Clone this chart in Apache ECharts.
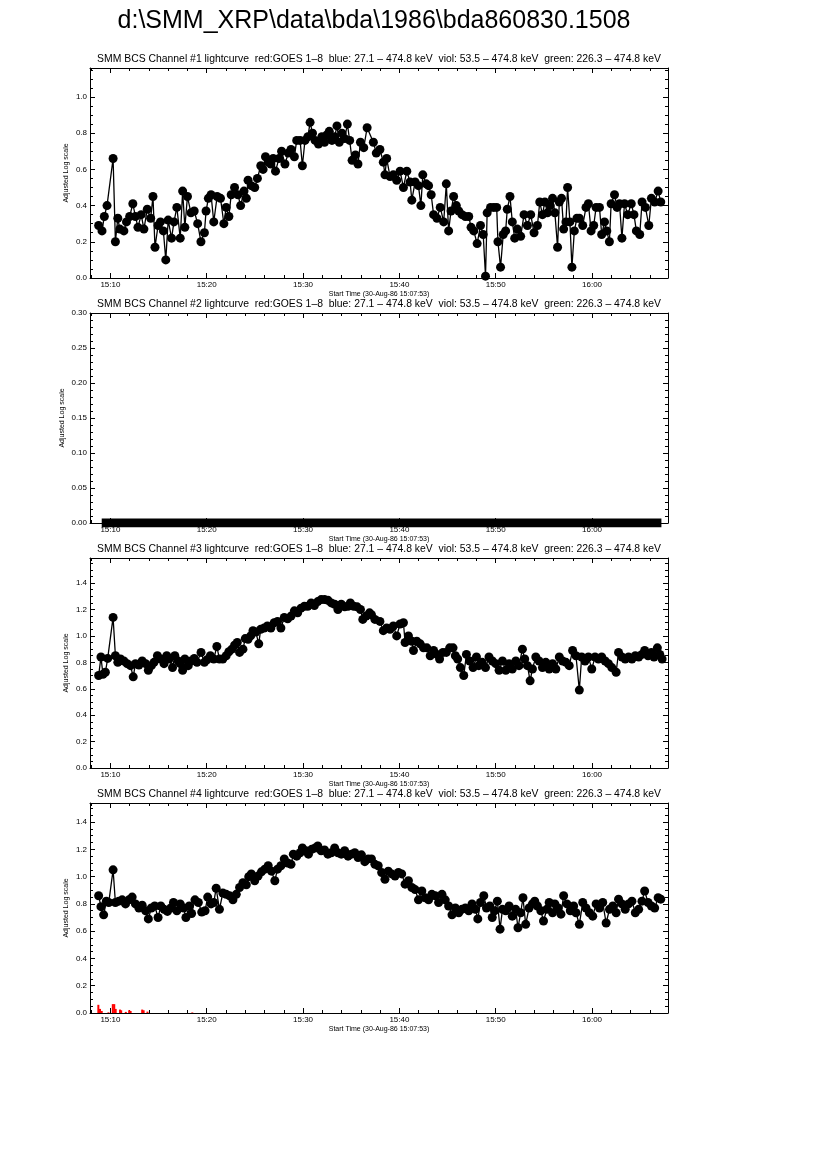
<!DOCTYPE html>
<html><head><meta charset="utf-8">
<script src="https://cdn.jsdelivr.net/npm/echarts@6/dist/echarts.min.js"></script>
<style>html,body{margin:0;padding:0;background:#fff}#c{width:826px;height:1169px}</style>
</head><body><div id="c"></div>
<script>
// ---------------- DATA (time in minutes after 15:00, 30-Aug-86) ----------------
const mainTitle = 'd:\\SMM_XRP\\data\\bda\\1986\\bda860830.1508';
const panelTitles = [
  'SMM BCS Channel #1 lightcurve  red:GOES 1\u20138  blue: 27.1 \u2013 474.8 keV  viol: 53.5 \u2013 474.8 keV  green: 226.3 \u2013 474.8 keV',
  'SMM BCS Channel #2 lightcurve  red:GOES 1\u20138  blue: 27.1 \u2013 474.8 keV  viol: 53.5 \u2013 474.8 keV  green: 226.3 \u2013 474.8 keV',
  'SMM BCS Channel #3 lightcurve  red:GOES 1\u20138  blue: 27.1 \u2013 474.8 keV  viol: 53.5 \u2013 474.8 keV  green: 226.3 \u2013 474.8 keV',
  'SMM BCS Channel #4 lightcurve  red:GOES 1\u20138  blue: 27.1 \u2013 474.8 keV  viol: 53.5 \u2013 474.8 keV  green: 226.3 \u2013 474.8 keV'
];
const xAxisTitle = 'Start Time (30-Aug-86 15:07:53)';
const yAxisTitle = 'Adjusted Log scale';
const xTicks = [10, 20, 30, 40, 50, 60];
const xTickLabels = ['15:10', '15:20', '15:30', '15:40', '15:50', '16:00'];
const yTicks1 = [0, 0.2, 0.4, 0.6, 0.8, 1.0];
const yTickLabels1 = ['0.0', '0.2', '0.4', '0.6', '0.8', '1.0'];
const yTicks2 = [0, 0.05, 0.10, 0.15, 0.20, 0.25, 0.30];
const yTickLabels2 = ['0.00', '0.05', '0.10', '0.15', '0.20', '0.25', '0.30'];
const yTicks34 = [0, 0.2, 0.4, 0.6, 0.8, 1.0, 1.2, 1.4];
const yTickLabels34 = ['0.0', '0.2', '0.4', '0.6', '0.8', '1.0', '1.2', '1.4'];

const t1 = [8.78,9.13,9.37,9.65,10.28,10.52,10.77,10.98,11.40,11.67,
12.00,12.33,12.60,12.86,13.20,13.48,13.83,14.18,14.42,14.63,
14.95,15.20,15.50,15.75,16.00,16.35,16.60,16.90,17.25,17.50,
17.73,18.00,18.36,18.70,19.06,19.40,19.76,19.93,20.17,20.45,
20.73,21.08,21.43,21.78,22.02,22.30,22.54,22.89,23.24,23.52,
23.87,24.11,24.29,24.63,24.98,25.26,25.61,25.85,26.10,26.38,
26.66,26.90,27.14,27.50,27.77,28.12,28.47,28.75,29.10,29.34,
29.69,29.93,30.20,30.50,30.73,30.98,31.25,31.60,31.95,32.23,
32.47,32.72,33.00,33.28,33.52,33.76,34.04,34.32,34.60,34.84,
35.09,35.44,35.70,35.96,36.30,36.65,37.30,37.60,37.98,38.33,
38.50,38.68,39.03,39.37,39.72,40.07,40.42,40.77,41.11,41.29,
41.63,41.98,42.23,42.43,42.78,43.03,43.30,43.55,43.90,44.24,
44.60,44.87,45.11,45.36,45.63,45.91,46.16,46.50,46.85,47.20,
47.44,47.72,48.07,48.42,48.70,48.94,49.11,49.46,49.80,50.10,
50.23,50.50,50.78,51.03,51.20,51.48,51.72,51.97,52.24,52.59,
52.94,53.29,53.63,53.98,54.33,54.57,54.85,55.10,55.37,55.65,
55.90,56.14,56.42,56.60,56.83,57.05,57.29,57.46,57.70,57.91,
58.16,58.43,58.68,59.03,59.37,59.62,59.90,60.17,60.42,60.77,
61.00,61.29,61.53,61.80,61.98,62.33,62.60,62.85,63.10,63.37,
63.70,64.07,64.35,64.60,64.95,65.19,65.54,65.89,66.16,66.50,
66.86,67.13];
const v1 = [0.29,0.26,0.34,0.40,0.66,0.20,0.33,0.27,0.26,0.31,
0.34,0.41,0.34,0.28,0.35,0.27,0.38,0.33,0.45,0.17,
0.29,0.31,0.26,0.10,0.32,0.22,0.31,0.39,0.22,0.48,
0.28,0.45,0.36,0.37,0.30,0.20,0.25,0.37,0.44,0.46,
0.31,0.45,0.44,0.30,0.39,0.34,0.46,0.50,0.46,0.40,
0.48,0.44,0.54,0.51,0.50,0.55,0.62,0.60,0.67,0.64,
0.63,0.66,0.59,0.66,0.70,0.63,0.69,0.71,0.67,0.76,
0.76,0.62,0.76,0.78,0.86,0.80,0.76,0.74,0.78,0.75,
0.79,0.81,0.76,0.78,0.84,0.75,0.80,0.77,0.85,0.76,
0.65,0.68,0.63,0.75,0.72,0.83,0.75,0.69,0.71,0.64,
0.57,0.66,0.56,0.57,0.54,0.59,0.50,0.59,0.53,0.43,
0.53,0.51,0.40,0.57,0.52,0.51,0.46,0.35,0.33,0.39,
0.31,0.52,0.26,0.37,0.45,0.40,0.37,0.35,0.34,0.34,
0.28,0.26,0.19,0.29,0.24,0.01,0.36,0.39,0.39,0.39,
0.20,0.06,0.24,0.26,0.38,0.45,0.31,0.22,0.27,0.23,
0.35,0.29,0.35,0.25,0.29,0.42,0.35,0.42,0.36,0.40,
0.44,0.36,0.17,0.42,0.44,0.27,0.31,0.50,0.31,0.06,
0.26,0.33,0.33,0.29,0.39,0.41,0.26,0.29,0.39,0.39,
0.24,0.31,0.26,0.20,0.41,0.46,0.39,0.41,0.22,0.41,
0.35,0.41,0.35,0.26,0.24,0.42,0.39,0.29,0.44,0.42,
0.48,0.42];

// Channel #2: flat zero readings across the interval
const t2 = [9.1, 15.0, 20.0, 25.0, 30.0, 35.0, 40.0, 45.0, 50.0, 55.0, 60.0, 67.2];
const v2 = [0, 0, 0, 0, 0, 0, 0, 0, 0, 0, 0, 0];

const t3 = [8.78,9.02,9.23,9.48,9.72,10.28,10.52,10.77,11.05,11.40,
11.74,12.09,12.37,12.60,12.96,13.30,13.66,13.94,14.25,14.53,
14.88,15.23,15.57,15.85,16.10,16.45,16.69,17.04,17.25,17.50,
17.73,18.08,18.36,18.71,18.99,19.41,19.76,20.03,20.38,20.73,
21.05,21.32,21.67,22.02,22.30,22.61,22.89,23.17,23.41,23.76,
24.00,24.29,24.56,24.80,25.09,25.40,25.60,25.96,26.30,26.66,
27.00,27.35,27.70,28.05,28.40,28.75,29.10,29.44,29.79,30.14,
30.49,30.84,31.18,31.53,31.88,32.23,32.58,32.93,33.28,33.62,
33.97,34.32,34.67,34.91,35.26,35.61,35.96,36.20,36.55,36.90,
37.10,37.46,37.98,38.33,38.68,39.03,39.37,39.72,40.07,40.42,
40.59,40.94,41.29,41.46,41.80,42.16,42.50,42.85,43.20,43.55,
43.90,44.17,44.52,44.87,45.22,45.57,45.81,46.05,46.33,46.68,
46.96,47.30,47.65,48.00,48.24,48.59,48.94,49.30,49.65,50.00,
50.35,50.70,51.04,51.39,51.72,52.09,52.42,52.77,53.01,53.29,
53.57,53.81,54.16,54.50,54.85,55.20,55.55,55.90,56.24,56.60,
56.94,57.29,57.63,57.98,58.33,58.68,58.92,59.27,59.62,59.97,
60.31,60.66,61.00,61.36,61.70,62.05,62.50,62.75,63.10,63.44,
63.79,64.14,64.49,64.84,65.18,65.46,65.81,66.16,66.43,66.78,
67.03,67.27];
const v3 = [0.70,0.84,0.71,0.725,0.83,1.14,0.85,0.80,0.825,0.81,
0.79,0.775,0.69,0.79,0.78,0.81,0.79,0.74,0.775,0.80,
0.85,0.825,0.79,0.85,0.825,0.76,0.85,0.81,0.79,0.74,
0.825,0.775,0.81,0.83,0.80,0.875,0.80,0.82,0.85,0.825,
0.92,0.825,0.825,0.85,0.88,0.90,0.93,0.95,0.875,0.90,
0.98,0.975,1.00,1.04,1.03,0.94,1.05,1.06,1.075,1.06,
1.10,1.11,1.06,1.14,1.13,1.15,1.19,1.175,1.21,1.225,
1.225,1.25,1.23,1.26,1.275,1.275,1.27,1.25,1.24,1.20,
1.24,1.22,1.225,1.25,1.225,1.22,1.20,1.125,1.15,1.175,
1.16,1.125,1.11,1.04,1.06,1.05,1.075,1.00,1.09,1.10,
0.95,1.00,0.96,0.89,0.96,0.94,0.91,0.91,0.85,0.89,
0.86,0.825,0.875,0.875,0.91,0.91,0.85,0.825,0.76,0.70,
0.86,0.81,0.76,0.84,0.775,0.80,0.76,0.84,0.81,0.79,
0.74,0.81,0.74,0.79,0.75,0.81,0.775,0.90,0.825,0.775,
0.66,0.75,0.84,0.81,0.76,0.80,0.75,0.79,0.75,0.84,
0.81,0.80,0.775,0.89,0.85,0.59,0.84,0.81,0.84,0.75,
0.84,0.825,0.84,0.81,0.79,0.76,0.725,0.875,0.84,0.825,
0.84,0.825,0.85,0.84,0.86,0.89,0.85,0.875,0.84,0.91,
0.86,0.825];

const t4 = [8.78,9.02,9.30,9.58,9.83,10.28,10.52,10.87,11.22,11.57,
11.92,12.26,12.60,12.96,13.30,13.66,13.94,14.25,14.60,14.95,
15.23,15.57,15.92,16.27,16.55,16.90,17.25,17.60,17.84,18.19,
18.43,18.78,19.13,19.48,19.83,20.10,20.45,20.73,20.98,21.32,
21.67,22.02,22.37,22.72,23.07,23.41,23.76,24.11,24.36,24.63,
24.98,25.33,25.68,26.03,26.38,26.72,27.07,27.35,27.70,28.05,
28.40,28.75,28.99,29.34,29.69,29.93,30.28,30.56,30.90,31.25,
31.53,31.88,32.23,32.58,32.93,33.28,33.62,33.97,34.32,34.67,
35.02,35.37,35.71,36.06,36.41,36.76,37.10,37.46,37.80,38.16,
38.50,38.85,39.20,39.55,39.90,40.24,40.59,40.94,41.29,41.63,
41.98,42.33,42.68,43.03,43.37,43.72,44.07,44.42,44.76,45.11,
45.46,45.81,46.16,46.50,46.85,47.20,47.54,47.89,48.14,48.42,
48.76,49.04,49.39,49.64,49.88,50.17,50.45,50.70,51.04,51.39,
51.72,52.07,52.31,52.59,52.83,53.11,53.46,53.81,54.05,54.33,
54.68,54.96,55.30,55.55,55.90,56.14,56.49,56.77,57.05,57.39,
57.74,58.09,58.33,58.68,59.03,59.37,59.72,60.07,60.42,60.77,
61.11,61.46,61.81,62.16,62.50,62.75,63.10,63.44,63.79,64.14,
64.49,64.84,65.18,65.46,65.81,66.16,66.50,66.86,67.13];
const v4 = [0.86,0.78,0.72,0.82,0.81,1.05,0.81,0.82,0.83,0.80,
0.83,0.85,0.80,0.77,0.79,0.75,0.69,0.77,0.785,0.70,
0.785,0.76,0.745,0.77,0.81,0.75,0.80,0.77,0.70,0.785,
0.73,0.83,0.81,0.74,0.75,0.85,0.80,0.81,0.915,0.76,
0.88,0.87,0.86,0.83,0.87,0.92,0.955,0.94,1.00,1.02,
0.97,1.005,1.035,1.055,1.08,1.04,0.97,1.055,1.08,1.13,
1.10,1.09,1.165,1.15,1.175,1.21,1.19,1.165,1.20,1.21,
1.225,1.19,1.195,1.165,1.175,1.21,1.175,1.165,1.19,1.15,
1.165,1.175,1.14,1.16,1.11,1.13,1.13,1.09,1.08,1.03,
0.98,1.04,1.02,1.005,1.03,1.02,0.945,0.97,0.92,0.905,
0.83,0.895,0.845,0.83,0.87,0.86,0.81,0.87,0.83,0.785,
0.72,0.77,0.735,0.76,0.77,0.75,0.80,0.76,0.69,0.81,
0.86,0.77,0.785,0.70,0.75,0.82,0.615,0.76,0.75,0.785,
0.71,0.76,0.625,0.735,0.845,0.65,0.77,0.80,0.82,0.785,
0.75,0.675,0.76,0.81,0.735,0.80,0.77,0.725,0.86,0.80,
0.75,0.785,0.735,0.65,0.81,0.77,0.735,0.71,0.80,0.77,
0.81,0.66,0.76,0.785,0.735,0.835,0.80,0.76,0.80,0.82,
0.735,0.76,0.82,0.895,0.81,0.785,0.77,0.845,0.835];

// GOES (red) bars seen in panel 4
const tRed = [8.75, 8.92, 9.10, 9.80, 10.25, 10.40, 10.55, 11.00, 11.12, 11.60, 11.95, 12.10, 13.30, 13.45, 13.85, 18.50];
const vRed = [0.060, 0.030, 0.015, 0.005, 0.065, 0.065, 0.030, 0.025, 0.020, 0.008, 0.020, 0.015, 0.025, 0.020, 0.010, 0.004];

// ---------------- LAYOUT ----------------
const FONT = '"Liberation Sans", Arial, Helvetica, sans-serif';
const X_MIN = 7 + 53 / 60, X_MAX = 67 + 53 / 60;
const GRID_LEFT = 90, GRID_W = 578, GRID_H = 210;
const panels = [
  { top: 68,  yMax: 1.16, ticks: yTicks1,  labels: yTickLabels1,  minorStep: 0.05, t: t1, v: v1, nameGap: 20 },
  { top: 313, yMax: 0.30, ticks: yTicks2,  labels: yTickLabels2,  minorStep: 0.01, t: t2, v: v2, nameGap: 24, band: true },
  { top: 558, yMax: 1.59, ticks: yTicks34, labels: yTickLabels34, minorStep: 0.05, t: t3, v: v3, nameGap: 20 },
  { top: 803, yMax: 1.54, ticks: yTicks34, labels: yTickLabels34, minorStep: 0.05, t: t4, v: v4, nameGap: 20, red: true }
];

const xMinor = [];
for (let m = 8; m < X_MAX; m += 2) xMinor.push(m);

function zip(a, b) { return a.map((x, i) => [x, b[i]]); }
function lookup(vals, labs, v) {
  for (let k = 0; k < vals.length; k++) if (Math.abs(vals[k] - v) < 1e-9) return labs[k];
  return '';
}

const grid = [], xAxis = [], yAxis = [], series = [], graphic = [];
const lineCol = { color: '#000', width: 1 };

graphic.push({ type: 'text', x: 374, y: 21,
  style: { text: mainTitle, fill: '#000', font: '25px ' + FONT, textAlign: 'center', textVerticalAlign: 'middle' } });

panels.forEach((p, g) => {
  grid.push({ left: GRID_LEFT, top: p.top, width: GRID_W, height: GRID_H, containLabel: false });
  graphic.push({ type: 'text', x: GRID_LEFT + GRID_W / 2, y: p.top - 9,
    style: { text: panelTitles[g], fill: '#000', font: '10.4px ' + FONT, textAlign: 'center', textVerticalAlign: 'middle' } });

  const yMinor = [];
  for (let k = 1; k * p.minorStep < p.yMax - 1e-9; k++) yMinor.push(+(k * p.minorStep).toFixed(4));

  const base = xAxis.length;
  xAxis.push({ gridIndex: g, type: 'value', min: X_MIN, max: X_MAX, position: 'bottom',
    axisLine: { show: true, onZero: false, lineStyle: lineCol },
    axisTick: { show: true, inside: true, length: 5, customValues: xTicks, lineStyle: lineCol },
    axisLabel: { show: true, customValues: xTicks, formatter: v => lookup(xTicks, xTickLabels, v),
      color: '#000', fontSize: 8, fontFamily: FONT, margin: 3 },
    splitLine: { show: false },
    name: xAxisTitle, nameLocation: 'middle', nameGap: 13,
    nameTextStyle: { color: '#000', fontSize: 7, fontFamily: FONT } });
  xAxis.push({ gridIndex: g, type: 'value', min: X_MIN, max: X_MAX, position: 'top',
    axisLine: { show: true, onZero: false, lineStyle: lineCol },
    axisTick: { show: true, inside: true, length: 5, customValues: xTicks, lineStyle: lineCol },
    axisLabel: { show: false }, splitLine: { show: false } });
  ['bottom', 'top'].forEach(pos => xAxis.push({ gridIndex: g, type: 'value', min: X_MIN, max: X_MAX, position: pos,
    axisLine: { show: false, onZero: false },
    axisTick: { show: true, inside: true, length: 3, customValues: xMinor, lineStyle: lineCol },
    axisLabel: { show: false }, splitLine: { show: false } }));

  yAxis.push({ gridIndex: g, type: 'value', min: 0, max: p.yMax, position: 'left',
    axisLine: { show: true, onZero: false, lineStyle: lineCol },
    axisTick: { show: true, inside: true, length: 5, customValues: p.ticks, lineStyle: lineCol },
    axisLabel: { show: true, customValues: p.ticks, formatter: v => lookup(p.ticks, p.labels, v),
      color: '#000', fontSize: 8, fontFamily: FONT, margin: 3 },
    splitLine: { show: false },
    name: yAxisTitle, nameLocation: 'middle', nameGap: p.nameGap, nameRotate: 90, nameMoveOverlap: false,
    nameTextStyle: { color: '#000', fontSize: 7, fontFamily: FONT } });
  yAxis.push({ gridIndex: g, type: 'value', min: 0, max: p.yMax, position: 'right',
    axisLine: { show: true, onZero: false, lineStyle: lineCol },
    axisTick: { show: true, inside: true, length: 5, customValues: p.ticks, lineStyle: lineCol },
    axisLabel: { show: false }, splitLine: { show: false } });
  ['left', 'right'].forEach(pos => yAxis.push({ gridIndex: g, type: 'value', min: 0, max: p.yMax, position: pos,
    axisLine: { show: false, onZero: false },
    axisTick: { show: true, inside: true, length: 3, customValues: yMinor, lineStyle: lineCol },
    axisLabel: { show: false }, splitLine: { show: false } }));

  if (p.band) {
    series.push({ type: 'line', xAxisIndex: base, yAxisIndex: base, data: zip(p.t, p.v),
      symbol: 'none', clip: true, lineStyle: { color: '#000', width: 9 }, z: 3 });
  } else {
    series.push({ type: 'line', xAxisIndex: base, yAxisIndex: base, data: zip(p.t, p.v),
      symbol: 'circle', symbolSize: 9, showAllSymbol: true, clip: true,
      itemStyle: { color: '#000' }, lineStyle: { color: '#000', width: 1.3 }, z: 3 });
  }
  if (p.red) {
    series.push({ type: 'bar', xAxisIndex: base, yAxisIndex: base, data: zip(tRed, vRed),
      barWidth: 2, itemStyle: { color: '#ff0000' }, z: 2 });
  }
});

const chart = echarts.init(document.getElementById('c'), null, { renderer: 'canvas' });
chart.setOption({ animation: false, backgroundColor: '#fff', grid, xAxis, yAxis, series, graphic });
</script>
</body></html>
